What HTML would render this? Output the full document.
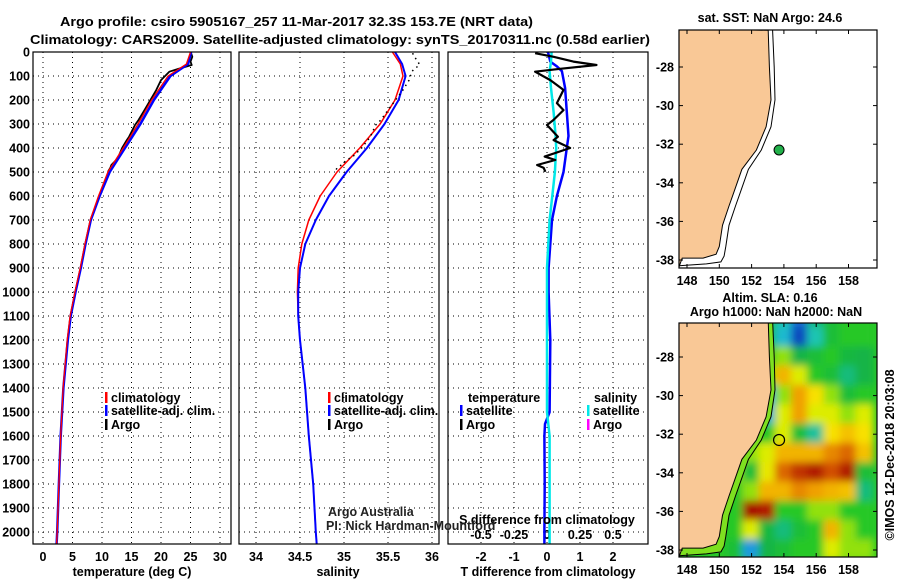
<!DOCTYPE html>
<html><head><meta charset="utf-8"><style>
html,body{margin:0;padding:0;background:#fff;}
svg{display:block;font-family:"Liberation Sans",sans-serif;}
.b{font-weight:bold;font-size:12.5px;}
</style></head><body>
<svg id="fig" width="900" height="580" viewBox="0 0 900 580" xmlns="http://www.w3.org/2000/svg">
<defs>
<clipPath id="clipMap2"><rect x="679" y="323" width="198" height="234"/></clipPath>
<clipPath id="clipMap1"><rect x="679" y="30" width="198" height="238"/></clipPath>
<filter id="blur" x="-10%" y="-10%" width="120%" height="120%"><feGaussianBlur stdDeviation="4"/></filter>
</defs>
<text class="b" x="60" y="26" font-size="15.5" textLength="473" lengthAdjust="spacingAndGlyphs">Argo profile: csiro 5905167_257 11-Mar-2017 32.3S 153.7E (NRT data)</text>
<text class="b" x="30" y="44" font-size="15.5" textLength="620" lengthAdjust="spacingAndGlyphs">Climatology: CARS2009. Satellite-adjusted climatology: synTS_20170311.nc (0.58d earlier)</text>
<g id="g"></g>
</svg>
<script>
// ---------- data ----------
const depthTicks=[0,100,200,300,400,500,600,700,800,900,1000,1100,1200,1300,1400,1500,1600,1700,1800,1900,2000];
const tempTicks=[0,5,10,15,20,25,30];
const salTicks=[34,34.5,35,35.5,36];
const tdTicks=[-2,-1,0,1,2];
const sdTicks=[-0.5,-0.25,0,0.25,0.5];
const sdTickLabels=["-0.5","-0.25","0","0.25","0.5"];
const lonTicks=[148,150,152,154,156,158];
const latTicks=[-28,-30,-32,-34,-36,-38];

const climDepth=[0,50,100,200,300,400,500,600,700,800,900,1000,1100,1200,1400,1600,1800,2000,2050];
const climTemp=[25.0,24.3,21.2,18.4,16.1,13.6,11.0,9.4,8.0,7.1,6.3,5.4,4.6,4.1,3.4,3.0,2.7,2.4,2.3];
const satTemp=[25.1,24.6,21.6,18.8,16.5,13.9,11.3,9.6,8.1,7.2,6.4,5.5,4.7,4.2,3.45,3.0,2.7,2.4,2.3];
const climSal=[35.55,35.64,35.67,35.58,35.41,35.18,34.92,34.73,34.6,34.52,34.48,34.47,34.48,34.5,34.56,34.6,34.65,34.68,34.69];
const satSal=[35.58,35.66,35.70,35.62,35.46,35.26,35.03,34.83,34.68,34.56,34.5,34.48,34.48,34.5,34.56,34.6,34.65,34.68,34.69];

const argoDepth=[5,20,40,54,70,82,117,158,213,242,283,304,353,367,400,436,450,471,483,499];
const argoTemp=[25.1,25.3,25.0,25.2,23.0,21.4,20.0,19.2,17.9,17.2,16.2,15.6,14.6,14.2,13.4,12.8,12.4,11.6,11.4,11.0];
const argoSal=[35.78,35.8,35.84,35.86,35.8,35.77,35.74,35.67,35.56,35.5,35.42,35.36,35.3,35.27,35.2,35.1,35.03,34.97,34.92,34.9];
const argoTdiff=[-0.36,0.2,0.8,1.5,0.4,-0.36,0.1,0.5,0.3,0.5,0.2,0.0,0.33,0.2,0.7,-0.07,0.25,-0.3,-0.1,-0.05];

const diffDepth=[0,40,60,80,150,250,350,400,500,550,600,700,800,900,1000,1200,1500,1550,1600,1800,2000,2050];
const satTdiff=[0.03,0.1,0.3,0.45,0.55,0.6,0.65,0.6,0.5,0.4,0.3,0.15,0.1,0.05,0.05,0.1,0.08,-0.06,-0.08,-0.07,-0.08,-0.08];
const satSdiff=[0.035,0.03,0.025,0.02,0.03,0.05,0.065,0.07,0.06,0.05,0.04,0.02,0.01,0.0,0.0,0.0,0.0,0.01,0.02,0.02,0.02,0.02];

const coastLon=[153.03,153.1,153.2,152.9,152.3,151.4,150.9,150.6,150.2,150.0,149.8,149.0,147.7];
const coastLat=[-26.1,-28.0,-29.7,-31.1,-32.3,-33.3,-34.5,-35.2,-36.2,-37.3,-37.7,-37.9,-37.9];
const isoLon=[153.3,153.4,153.45,153.2,152.6,151.8,151.3,151.0,150.6,150.4,150.3,150.1,149.2,147.5];
const isoLat=[-26.1,-28.0,-29.7,-31.1,-32.3,-33.3,-34.5,-35.2,-36.2,-37.3,-37.8,-38.1,-38.2,-38.3];
const argoLon=153.7, argoLat=-32.3;

const slaLons=[150,151,152,153,154,155,156,157,158,159];
const slaLats=[-26,-27,-28,-29,-30,-31,-32,-33,-34,-35,-36,-37,-38];
const slaGrid=[
[.5,.55,.55,.45,.3,.1,.35,.45,.5,.5],
[.5,.55,.55,.45,.25,.05,.3,.45,.5,.5],
[.5,.55,.55,.5,.55,.4,.45,.5,.42,.4],
[.5,.55,.55,.55,.72,.6,.5,.45,.35,.4],
[.5,.55,.45,.2,.55,.75,.65,.55,.45,.5],
[.5,.5,.42,.22,.6,.75,.6,.6,.55,.6],
[.5,.5,.5,.5,.6,.45,.32,.65,.7,.65],
[.5,.55,.55,.6,.72,.72,.72,.78,.82,.7],
[.5,.55,.45,.62,.82,.9,.95,.85,.95,.45],
[.5,.5,.55,.72,.72,.78,.75,.72,.7,.35],
[.5,.5,.98,.95,.5,.5,.55,.55,.5,.5],
[.5,.5,.6,.42,.35,.45,.5,.72,.55,.5],
[.5,.45,.18,.4,.45,.5,.5,.6,.55,.55]];

// ---------- helpers ----------
const NS="http://www.w3.org/2000/svg";
const G=document.getElementById('g');
function mk(tag,at,parent){const e=document.createElementNS(NS,tag);for(const k in at)e.setAttribute(k,at[k]);(parent||G).appendChild(e);return e;}
function txt(x,y,s,anchor,cls,parent){const e=mk('text',{x:x,y:y,'text-anchor':anchor||'start','class':cls||'b'},parent);e.textContent=s;return e;}
const yD=d=>52+d*0.24;
const xT=t=>43+t*5.9;
const xS=s=>256+(s-34)*88;
const xTd=v=>547+v*33;
const xSd=v=>547+v*132;
const lonX=l=>687+(l-148)*16.15;
const latY=(l,off)=>off+67+(-28-l)*19.3;
function pts(xs,ys,fx,fy){return xs.map((v,i)=>fx(v).toFixed(1)+','+fy(ys[i]).toFixed(1)).join(' ');}

// ---------- profile panels ----------
const panels=[{x0:33,x1:231},{x0:239,x1:439},{x0:448,x1:648}];
panels.forEach((p,pi)=>{
  depthTicks.forEach(d=>{const l=mk('line',{x1:p.x0,x2:p.x1,y1:yD(d),y2:yD(d),stroke:'#000','stroke-width':1,'stroke-dasharray':'1,4'});
    
    });
});
tempTicks.forEach(t=>{const l=mk('line',{x1:xT(t),x2:xT(t),y1:52,y2:544,stroke:'#000','stroke-dasharray':'1,4'});
  
  
  const tx=txt(xT(t),561,String(t),'middle');
  
  });
salTicks.forEach(s=>{const l=mk('line',{x1:xS(s),x2:xS(s),y1:52,y2:544,stroke:'#000','stroke-dasharray':'1,4'});
  
  
  const tx=txt(xS(s),561,String(s),'middle');
  
  });
tdTicks.forEach(t=>{const l=mk('line',{x1:xTd(t),x2:xTd(t),y1:52,y2:544,stroke:'#000','stroke-dasharray':'1,4'});
  
  
  const tx=txt(xTd(t),561,String(t),'middle');
  
  });
sdTicks.forEach((t,i)=>{const tx=txt(xSd(t),539,sdTickLabels[i],'middle');
  
  });
depthTicks.forEach(d=>{const tx=txt(30,yD(d)+4.5,String(d),'end');
  
  });

function line(xs,ys,fx,fy,color,w,name,dash){
  const a={points:pts(xs,ys,fx,fy),fill:'none',stroke:color,'stroke-width':w,'stroke-linejoin':'round'};
  if(dash)a['stroke-dasharray']=dash;
  const e=mk('polyline',a);
  
  
  return e;}
line(argoTemp,argoDepth,xT,yD,'#000',1.8,'temp-argo-line');
line(satTemp,climDepth,xT,yD,'#0000ff',2.5,'temp-satellite-line');
line(climTemp,climDepth,xT,yD,'#ff0000',1.3,'temp-climatology-line');
line(climSal,climDepth,xS,yD,'#ff0000',1.5,'sal-climatology-line');
line(satSal,climDepth,xS,yD,'#0000ff',2,'sal-satellite-line');
line(argoSal,argoDepth,xS,yD,'#000',1.5,'sal-argo-line','1.5,4');
line(satTdiff,diffDepth,xTd,yD,'#0000ff',2.5,'tdiff-satellite-line');
line(satSdiff,diffDepth,xSd,yD,'#00e8e8',2.5,'sdiff-satellite-line');
line(argoTdiff,argoDepth,xTd,yD,'#000',2.2,'tdiff-argo-line');

panels.forEach((p,i)=>{const r=mk('rect',{x:p.x0,y:52,width:p.x1-p.x0,height:492,fill:'none',stroke:'#000','stroke-width':1.2});
  
  });

function lab(x,y,s,name,anchor){const t=txt(x,y,s,anchor||'middle');return t;}
lab(132,576,'temperature (deg C)','temp-axis-title');
lab(338,576,'salinity','sal-axis-title');
lab(548,576,'T difference from climatology','tdiff-axis-title');
lab(547,524,'S difference from climatology','sdiff-axis-title');
const aa=txt(328,516,'Argo Australia','start','');aa.setAttribute('font-size','12');aa.setAttribute('fill','#222');


const pi=txt(326,530,'PI: Nick Hardman-Mountford','start','');pi.setAttribute('font-size','12');pi.setAttribute('fill','#222');



function legendEntry(x,y,color,s,name){
  const r=mk('rect',{x:x,y:y-10,width:2.5,height:11,fill:color});
  
  
  const t=txt(x+6,y,s);
  
  }
legendEntry(105,402,'#ff0000','climatology','legend-temp-climatology');
legendEntry(105,415,'#0000ff','satellite-adj. clim.','legend-temp-satellite');
legendEntry(105,429,'#000','Argo','legend-temp-argo');
legendEntry(328,402,'#ff0000','climatology','legend-sal-climatology');
legendEntry(328,415,'#0000ff','satellite-adj. clim.','legend-sal-satellite');
legendEntry(328,429,'#000','Argo','legend-sal-argo');
lab(468,402,'temperature','legend-diff-temperature-header','start');
lab(594,402,'salinity','legend-diff-salinity-header','start');
legendEntry(460,415,'#0000ff','satellite','legend-tdiff-satellite');
legendEntry(460,429,'#000','Argo','legend-tdiff-argo');
legendEntry(587,415,'#00e8e8','satellite','legend-sdiff-satellite');
legendEntry(587,429,'#ff00ff','Argo','legend-sdiff-argo');

// ---------- maps ----------
function cmap(v){
  const st=[[0,[0,40,170]],[0.15,[30,140,230]],[0.28,[30,200,200]],[0.4,[20,180,70]],[0.5,[40,200,40]],[0.58,[210,240,0]],[0.65,[248,225,0]],[0.75,[240,160,0]],[0.85,[210,80,0]],[1,[160,0,0]]];
  for(let i=1;i<st.length;i++){if(v<=st[i][0]){const a=st[i-1],b=st[i],f=(v-a[0])/(b[0]-a[0]);
    return 'rgb('+a[1].map((c,k)=>Math.round(c+(b[1][k]-c)*f)).join(',')+')';}}
  return 'rgb(160,0,0)';}
function landPoly(off){
  const xs=coastLon.concat([147.4,147.4]),ys=coastLat.concat([-38.6,-26.0]);
  return xs.map((v,i)=>lonX(v).toFixed(1)+','+latY(ys[i],off).toFixed(1)).join(' ');}
function shelfPoly(off){
  const xs=coastLon.concat(isoLon.slice().reverse()),ys=coastLat.concat(isoLat.slice().reverse());
  return xs.map((v,i)=>lonX(v).toFixed(1)+','+latY(ys[i],off).toFixed(1)).join(' ');}
function drawMap(off,top,h,clip,withSla,n){
  const g=mk('g',{'clip-path':'url(#'+clip+')'});
  
  
  if(withSla){
    mk('rect',{x:679,y:top,width:198,height:h,fill:cmap(0.5)},g);
    const hg=mk('g',{filter:'url(#blur)'},g);
    slaLats.forEach((la,j)=>slaLons.forEach((lo,i)=>{
      const c=mk('rect',{x:(lonX(lo-0.5)-1).toFixed(1),y:(latY(la+0.5,off)-1).toFixed(1),width:18.2,height:21.3,fill:cmap(slaGrid[j][i])},hg);
      
      
    }));
    const sh=mk('polygon',{points:shelfPoly(off),fill:'#7ee020'},g);
    
    
  }
  const land=mk('polygon',{points:landPoly(off),fill:'#f9c896',stroke:'#000','stroke-width':1},g);
  
  
  const iso=mk('polyline',{points:pts(isoLon,isoLat,lonX,l=>latY(l,off)),fill:'none',stroke:'#000','stroke-width':1},g);
  
  
  const frame=mk('rect',{x:679,y:top,width:198,height:h,fill:'none',stroke:'#000','stroke-width':1.2});
  
  
  latTicks.forEach(l=>{const y=latY(l,off);
    mk('line',{x1:679,x2:683,y1:y,y2:y,stroke:'#000'});mk('line',{x1:873,x2:877,y1:y,y2:y,stroke:'#000'});
    const t=txt(674,y+4.5,String(l),'end');
    
    });
  lonTicks.forEach(l=>{const x=lonX(l);
    mk('line',{x1:x,x2:x,y1:top,y2:top+4,stroke:'#000'});mk('line',{x1:x,x2:x,y1:top+h-4,y2:top+h,stroke:'#000'});
    const t=txt(x,top+h+17,String(l),'middle');
    
    });
}
drawMap(0,30,238,'clipMap1',false,1);
drawMap(290,323,234,'clipMap2',true,2);
const m1=mk('circle',{cx:lonX(argoLon),cy:latY(argoLat,0),r:5,fill:'#22b04a',stroke:'#000','stroke-width':1});


const m2=mk('circle',{cx:lonX(argoLon),cy:latY(argoLat,290),r:5.5,fill:'none',stroke:'#000','stroke-width':1.2});


lab(770,22,'sat. SST: NaN  Argo: 24.6','sst-map-title');
lab(770,302,'Altim. SLA: 0.16','sla-map-title');
lab(776,316,'Argo h1000: NaN h2000: NaN','sla-map-subtitle');
const imos=txt(0,0,'©IMOS 12-Dec-2018 20:03:08','middle','');
imos.setAttribute('font-size','13.5');
imos.setAttribute('transform','translate(894,455) rotate(-90)');


</script>
</body></html>
